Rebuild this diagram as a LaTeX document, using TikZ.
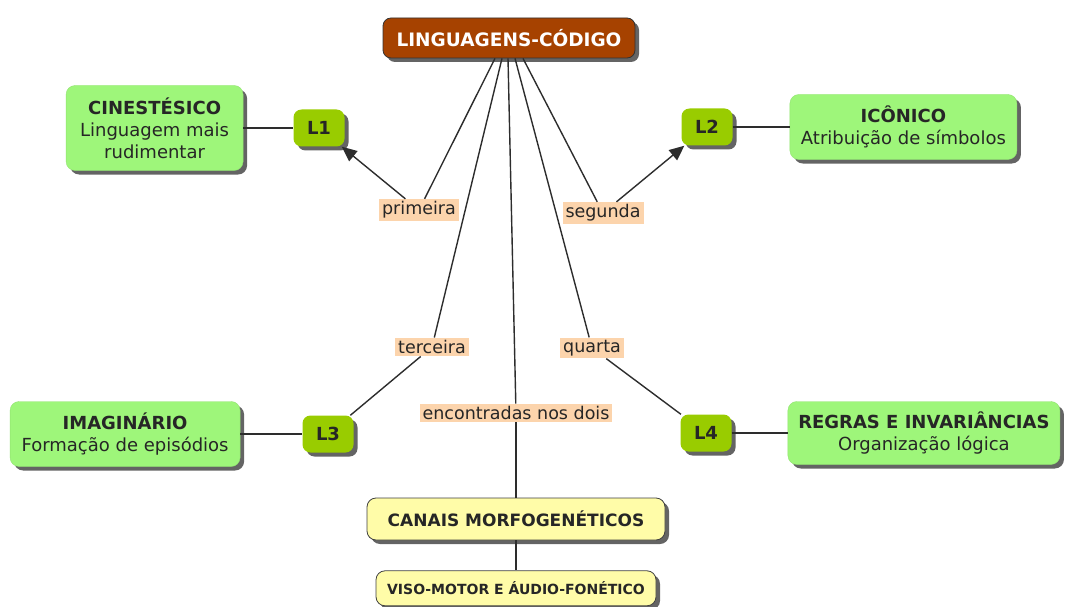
\documentclass[tikz,border=0pt]{standalone}
\usepackage{fontspec}
\setmainfont{DejaVu Sans}
\usetikzlibrary{shapes,arrows.meta,positioning,shadows,calc}
\definecolor{mapbrown}{RGB}{166,66,0}
\definecolor{mapgreen}{RGB}{158,246,122}
\definecolor{maplime}{RGB}{153,204,0}
\definecolor{mapyellow}{RGB}{255,252,168}
\definecolor{mappeach}{RGB}{252,212,172}
\definecolor{mapline}{RGB}{45,45,45}
\definecolor{mapshadow}{RGB}{100,100,100}

\begin{document}
\begin{tikzpicture}[x=1pt, y=-1pt,
  every node/.style={font=\fontsize{18}{22}\selectfont, text=black!85},
  boxshadow/.style={drop shadow={shadow xshift=4pt, shadow yshift=-4pt, fill=mapshadow, opacity=1}},
  head/.style={rounded corners=8pt, fill=mapbrown, draw=black!80, thick, text=white, boxshadow, inner sep=0pt, font=\fontsize{18.5}{22}\selectfont\bfseries},
  concept/.style={rounded corners=9pt, fill=mapgreen, draw=mapgreen!92!black, align=center, inner sep=0pt, boxshadow},
  level/.style={rounded corners=8pt, fill=maplime, minimum width=51pt, minimum height=37pt, inner sep=0pt, boxshadow, font=\fontsize{18}{22}\selectfont\bfseries},
  channel/.style={rounded corners=9pt, fill=mapyellow, draw=black!75, thick, inner sep=0pt, boxshadow, font=\fontsize{17}{20}\selectfont\bfseries},
  link/.style={fill=mappeach, inner xsep=3pt, inner ysep=2.5pt, font=\fontsize{17.5}{20}\selectfont},
  conn/.style={mapline, line width=1.4pt}]
  \useasboundingbox (0,0) rectangle (1068,607);

  \node[head, minimum width=252pt, minimum height=40pt] (ling) at (509,38) {LINGUAGENS-CÓDIGO};

  \node[level] (l1) at (319,128) {L1};
  \node[level] (l2) at (707,127) {L2};
  \node[level] (l3) at (328,434) {L3};
  \node[level] (l4) at (706,433) {L4};

  \node[concept, minimum width=177pt, minimum height=85pt, left=50pt of l1] (cin) {\textbf{CINESTÉSICO}\\Linguagem mais\\rudimentar};
  \node[concept, minimum width=227pt, minimum height=65pt, right=57pt of l2] (ico) {\textbf{ICÔNICO}\\Atribuição de símbolos};
  \node[concept, minimum width=230pt, minimum height=65pt, left=62pt of l3] (ima) {\textbf{IMAGINÁRIO}\\Formação de episódios};
  \node[concept, minimum width=272pt, minimum height=63pt, right=56pt of l4] (reg) {\textbf{REGRAS E INVARIÂNCIAS}\\Organização lógica};

  \node[link] (prim) at (419,210) {primeira};
  \node[link] (seg) at (603,213) {segunda};
  \node[link] (terc) at (432,347) {terceira};
  \node[link] (quar) at (592,348) {quarta};
  \node[link] (enc) at (516,413) {encontradas nos dois};

  \node[channel, minimum width=298pt, minimum height=42pt] (can) at (516,519) {CANAIS MORFOGENÉTICOS};
  \node[channel, minimum width=280pt, minimum height=35pt, font=\fontsize{14}{16}\selectfont\bfseries, below=30pt of can] (viso) {VISO-MOTOR E ÁUDIO-FONÉTICO};

  \draw[conn] ([xshift=-14pt]ling.south) -- (prim);
  \draw[conn] ([xshift=-7pt]ling.south) -- (terc);
  \draw[conn] ([xshift=-1pt]ling.south) -- (enc);
  \draw[conn] ([xshift=6pt]ling.south) -- (quar);
  \draw[conn] ([xshift=14pt]ling.south) -- (seg);

  \draw[conn, -{Triangle[length=15pt, width=13pt]}] (prim) -- (l1);
  \draw[conn, -{Triangle[length=15pt, width=13pt]}] (seg) -- (l2);
  \draw[conn] (terc) -- (l3);
  \draw[conn] (quar) -- (l4);
  \draw[conn] (enc) -- (can);
  \draw[conn] (can) -- (viso);

  \draw[conn] (cin) -- (l1);
  \draw[conn] (l2) -- (ico);
  \draw[conn] (ima) -- (l3);
  \draw[conn] (l4) -- (reg);
\end{tikzpicture}
\end{document}
